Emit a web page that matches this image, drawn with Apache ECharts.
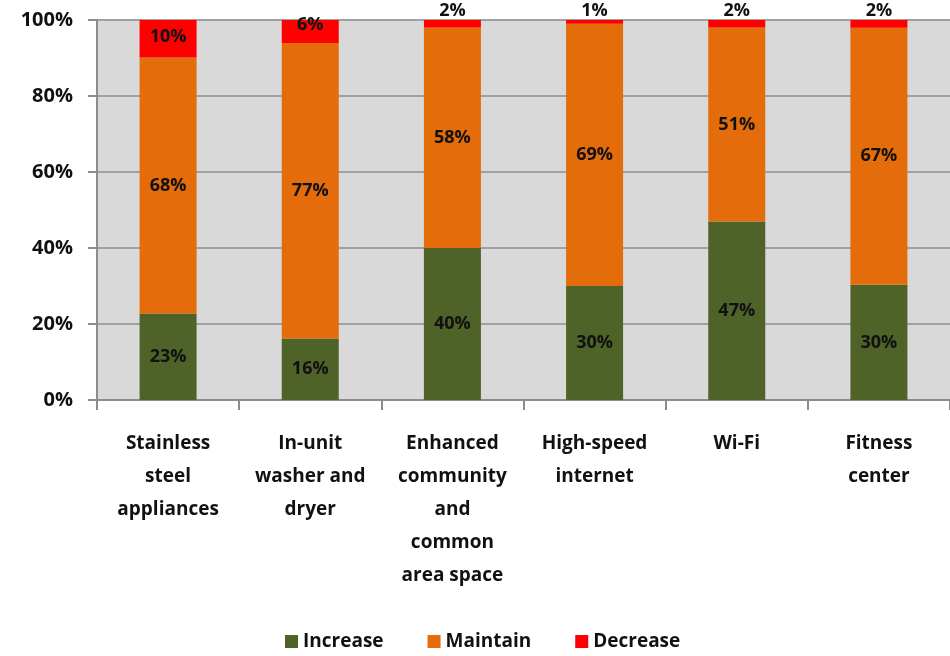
<!doctype html>
<html>
<head>
    <title>Amenities</title>
    <script src="https://cdnjs.cloudflare.com/ajax/libs/echarts/6.0.0/echarts.min.js"></script>
</head>
<style>
    html, body { margin: 0; padding: 0; background: #fff; }
    #chart { width: 950px; height: 656px; }
</style>
<body>
<div id="chart"></div>
<script>
  var categories = [
    'Stainless\nsteel\nappliances',
    'In-unit\nwasher and\ndryer',
    'Enhanced\ncommunity\nand\ncommon\narea space',
    'High-speed\ninternet',
    'Wi-Fi',
    'Fitness\ncenter'
  ];
  var increase = [23, 16, 40, 30, 47, 30];
  var maintain = [68, 77, 58, 69, 51, 67];
  var decrease = [10, 6, 2, 1, 2, 2];
  var yTicks = [0, 20, 40, 60, 80, 100];

  // 100% stacked: normalise each column by its total
  function share(arr, i) {
    var total = increase[i] + maintain[i] + decrease[i];
    return arr[i] / total * 100;
  }

  var font = '"Open Sans", Lato, sans-serif';
  var labelStyle = { show: true, color: '#111', fontFamily: font, fontWeight: 'bold', fontSize: 18 };

  function build(arr, name) {
    return arr.map(function (v, i) {
      var item = { value: share(arr, i), raw: v };
      if (name === 'Decrease') {
        if (v <= 2) item.label = { position: 'top', distance: -7 };
        else if (v < 8) item.label = { position: 'insideTop', distance: -12 };
        else item.label = { position: 'insideTop', distance: 0 };
      }
      return item;
    });
  }

  var colors = { Increase: '#4f6228', Maintain: '#e46c0a', Decrease: '#ff0000' };
  var series = [['Increase', increase], ['Maintain', maintain], ['Decrease', decrease]].map(function (s) {
    return {
      name: s[0],
      type: 'bar',
      stack: 'total',
      barWidth: 57,
      itemStyle: { color: colors[s[0]] },
      label: Object.assign({}, labelStyle, {
        position: 'inside',
        formatter: function (p) { return p.data.raw + '%'; }
      }),
      data: build(s[1], s[0])
    };
  });

  var myChart = echarts.init(document.getElementById('chart'));
  myChart.setOption({
    animation: false,
    grid: {
      left: 97, top: 20, width: 864, height: 380,
      show: true, backgroundColor: '#d9d9d9', borderWidth: 0
    },
    legend: {
      top: 619,
      left: 280,
      itemWidth: 13,
      itemHeight: 13,
      itemGap: 44,
      icon: 'rect',
      textStyle: { fontFamily: font, fontWeight: 'bold', fontSize: 19, color: '#111' },
      data: ['Increase', 'Maintain', 'Decrease']
    },
    xAxis: {
      type: 'category',
      data: categories,
      axisLine: { lineStyle: { color: '#8c8c8c', width: 2 } },
      axisTick: { show: true, length: 10, lineStyle: { color: '#8c8c8c', width: 2 } },
      axisLabel: {
        margin: 27, interval: 0, color: '#111', fontFamily: font, fontWeight: 'bold',
        fontSize: 19, lineHeight: 33, align: 'center'
      }
    },
    yAxis: {
      type: 'value',
      min: yTicks[0],
      max: yTicks[yTicks.length - 1],
      interval: yTicks[1] - yTicks[0],
      axisLine: { show: true, lineStyle: { color: '#8c8c8c', width: 2 } },
      axisTick: { show: true, length: 9, lineStyle: { color: '#8c8c8c', width: 2 } },
      splitLine: { lineStyle: { color: '#a0a0a0', width: 2 } },
      axisLabel: {
        margin: 24, formatter: '{value}%', color: '#111', fontFamily: font,
        fontWeight: 'bold', fontSize: 20
      }
    },
    series: series
  });
</script>
</body>
</html>
